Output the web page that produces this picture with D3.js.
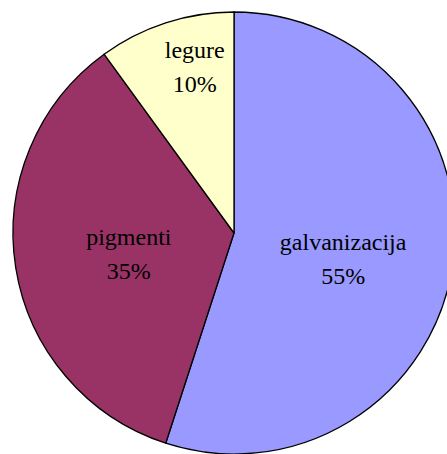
<!DOCTYPE html>
<html>
<head>
<meta charset="utf-8">
<script src="https://cdn.jsdelivr.net/npm/d3@7"></script>
<style>
  body { margin: 0; background: #fff; }
  svg { display: block; }
</style>
</head>
<body>
<div id="chart"></div>
<script>
let categories = ["galvanizacija", "pigmenti", "legure"];
let values = [55, 35, 10];
let percentLabels = ["55%", "35%", "10%"];
let colors = ["#9999FF", "#993366", "#FFFFCC"];

// label placement: fraction of radius for the centroid, plus a pixel nudge
let labelNudge = {
  "galvanizacija": { dx: 0, dy: 0, k: 0.5 },
  "pigmenti": { dx: 4, dy: -5, k: 0.5 },
  "legure": { dx: 14, dy: -11, k: 0.78 }
};

let width = 447, height = 454;
let cx = 234, cy = 233, radius = 221;

let data = categories.map((c, i) => ({ name: c, value: values[i], label: percentLabels[i], color: colors[i] }));

let svg = d3.select("#chart").append("svg")
  .attr("width", width)
  .attr("height", height);

let g = svg.append("g").attr("transform", "translate(" + cx + "," + cy + ")");

let pie = d3.pie().sort(null).value(d => d.value);
let arc = d3.arc().innerRadius(0).outerRadius(radius);

let arcs = pie(data);

g.selectAll("path.slice")
  .data(arcs)
  .enter().append("path")
  .attr("class", "slice")
  .attr("d", arc)
  .attr("fill", d => d.data.color)
  .attr("stroke", "#000")
  .attr("stroke-width", 1.3)
  .attr("stroke-linejoin", "round");

let labels = g.selectAll("text.lbl")
  .data(arcs)
  .enter().append("text")
  .attr("class", "lbl")
  .attr("text-anchor", "middle")
  .style("font-family", "'Liberation Serif'")
  .style("font-size", "24px")
  .attr("fill", "#000")
  .attr("transform", d => {
    let n = labelNudge[d.data.name];
    let r = radius * n.k;
    let c = d3.arc().innerRadius(r).outerRadius(r).centroid(d);
    return "translate(" + (c[0] + n.dx) + "," + (c[1] + n.dy) + ")";
  });

labels.append("tspan")
  .attr("x", 0)
  .attr("y", 0)
  .text(d => d.data.name);

labels.append("tspan")
  .attr("x", 0)
  .attr("y", 34)
  .text(d => d.data.label);
</script>
</body>
</html>
